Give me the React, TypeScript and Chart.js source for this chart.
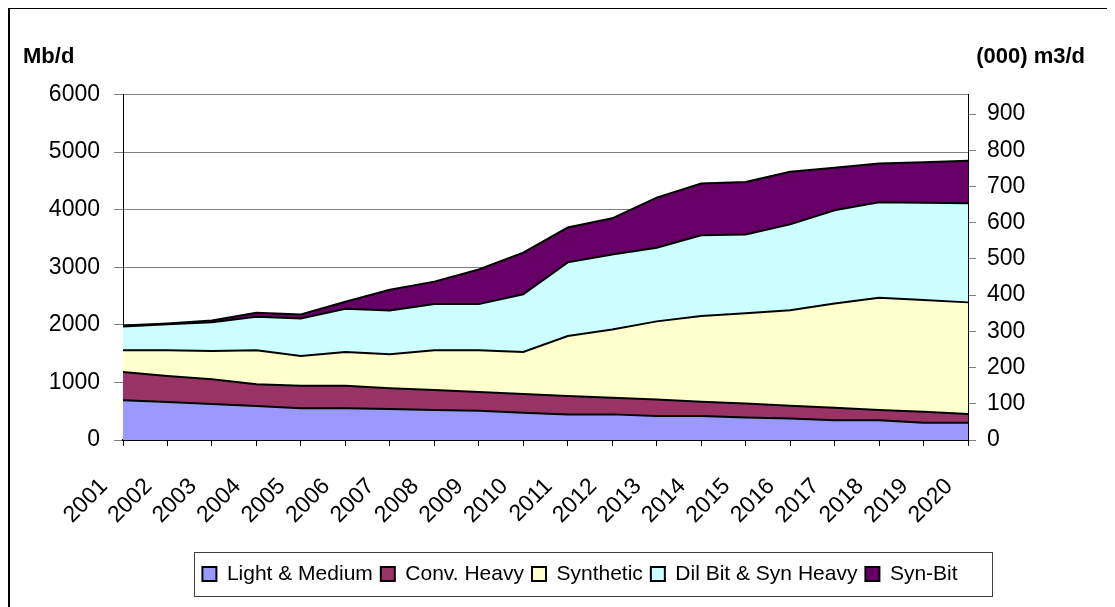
import React, { useEffect, useRef } from 'react';
import { Chart, registerables } from 'chart.js';

Chart.register(...registerables);

// ---- Data (Mb/d) ----
const years = ['2001', '2002', '2003', '2004', '2005', '2006', '2007', '2008', '2009', '2010',
  '2011', '2012', '2013', '2014', '2015', '2016', '2017', '2018', '2019', '2020'];

const lightMedium = [690, 660, 625, 590, 550, 550, 540, 520, 510, 475, 445, 445, 415, 415, 390, 375, 345, 345, 300, 300];
const convHeavy = [490, 450, 430, 380, 390, 390, 360, 350, 325, 325, 320, 290, 290, 250, 245, 220, 215, 175, 190, 150];
const synthetic = [380, 450, 490, 590, 520, 590, 590, 690, 725, 730, 1040, 1185, 1355, 1490, 1565, 1660, 1810, 1950, 1940, 1940];
const dilBitSynHeavy = [410, 450, 500, 580, 650, 750, 760, 800, 800, 1000, 1280, 1300, 1280, 1400, 1370, 1490, 1620, 1660, 1690, 1720];
const synBit = [20, 15, 30, 70, 70, 120, 360, 390, 600, 725, 605, 630, 870, 900, 910, 915, 740, 670, 705, 740];

const seriesNames = ['Light & Medium', 'Conv. Heavy', 'Synthetic', 'Dil Bit & Syn Heavy', 'Syn-Bit'];
const seriesColors = ['#9999FF', '#993366', '#FFFFCC', '#CCFFFF', '#660066'];

const leftAxisTitle = 'Mb/d';
const rightAxisTitle = '(000) m3/d';
const leftMax = 6000;
const leftStep = 1000;
const rightTicks = [0, 100, 200, 300, 400, 500, 600, 700, 800, 900];
const bblPerM3 = 6.29;

const FONT = '"Liberation Sans", Arial, Helvetica, sans-serif';
const W = 1103;
const H = 600;

export default function App() {
  const canvasRef = useRef<HTMLCanvasElement | null>(null);

  useEffect(() => {
    document.documentElement.style.overflow = 'hidden';
    document.body.style.overflow = 'hidden';
    const canvas = canvasRef.current;
    if (!canvas) return;

    const seriesData = [lightMedium, convHeavy, synthetic, dilBitSynHeavy, synBit];

    const decorPlugin = {
      id: 'decor',
      afterUpdate(chart: any) {
        const lg = chart.legend;
        if (!lg || !lg.legendHitBoxes || !lg.legendHitBoxes.length) return;
        const hb = lg.legendHitBoxes;
        const first = hb[0].left;
        const lastBox = hb[hb.length - 1];
        const last = lastBox.left + lastBox.width;
        const desiredCenter = 572;
        const dx = desiredCenter - (first + last) / 2;
        lg.left += dx;
        lg.right += dx;
        hb.forEach((h: any) => { h.left += dx; });
      },
      beforeDraw(chart: any) {
        const c = chart.ctx;
        c.save();
        c.fillStyle = '#fff';
        c.fillRect(0, 0, chart.width, chart.height);
        c.restore();
      },
      afterDraw(chart: any) {
        const c = chart.ctx;
        c.save();
        // outer frame (left, top, right)
        c.fillStyle = '#000';
        c.fillRect(0, 0, 2, chart.height);
        c.fillRect(0, 0, 1103, 2);
        c.fillRect(1100, 0, 2, chart.height);

        c.fillStyle = '#000';
        c.font = `bold 22px ${FONT}`;
        c.textBaseline = 'alphabetic';
        c.textAlign = 'left';
        c.fillText(leftAxisTitle, 15, 56);
        c.textAlign = 'right';
        c.fillText(rightAxisTitle, 1077, 56);

        const lg = chart.legend;
        if (lg && lg.legendHitBoxes && lg.legendHitBoxes.length) {
          const hb = lg.legendHitBoxes;
          const firstLeft = hb[0].left;
          const lastBox = hb[hb.length - 1];
          const lastRight = lastBox.left + lastBox.width;
          const yc = hb[0].top + hb[0].height / 2;
          const x1 = Math.round(firstLeft - 8) + 0.5;
          const x2 = Math.round(lastRight + 34) + 0.5;
          const y1 = Math.round(yc - 22) + 0.5;
          const y2 = Math.round(yc + 22) + 0.5;
          c.strokeStyle = '#404040';
          c.lineWidth = 1;
          c.strokeRect(x1, y1, x2 - x1, y2 - y1);
        }
        c.restore();
      },
    };

    const chart = new Chart(canvas, {
      type: 'line',
      data: {
        labels: years,
        datasets: seriesData.map((d, i) => ({
          label: seriesNames[i],
          data: d,
          backgroundColor: seriesColors[i],
          borderColor: '#000000',
          borderWidth: 2,
          fill: i === 0 ? 'origin' : '-1',
          pointRadius: 0,
          pointHoverRadius: 0,
          tension: 0,
        })),
      },
      options: {
        animation: false,
        responsive: false,
        maintainAspectRatio: false,
        events: [],
        layout: { padding: { top: 87.5, bottom: 12.5, left: 0, right: 0 } },
        plugins: {
          legend: {
            position: 'bottom',
            labels: {
              boxWidth: 14,
              boxHeight: 14,
              padding: 8,
              color: '#000',
              font: { size: 21, family: FONT },
            },
          },
          tooltip: { enabled: false },
          title: { display: false },
        },
        scales: {
          x: {
            type: 'category',
            offset: false,
            grid: { drawOnChartArea: false, drawTicks: true, tickLength: 6, color: '#000' },
            border: { color: '#000', width: 2 },
            ticks: {
              autoSkip: false,
              maxRotation: 45,
              minRotation: 45,
              color: '#000',
              padding: 27,
              labelOffset: -19,
              font: { size: 23, family: FONT },
            },
            afterFit: (s: any) => { s.height = 115.5; },
          },
          y: {
            stacked: true,
            min: 0,
            max: leftMax,
            ticks: {
              stepSize: leftStep,
              color: '#000',
              padding: 14,
              font: { size: 23, family: FONT },
              callback: (v: any) => String(v),
            },
            grid: { color: '#808080', lineWidth: 1, tickLength: 9, tickColor: '#808080' },
            border: { color: '#000', width: 1 },
            afterFit: (s: any) => { s.width = 115; },
          },
          y1: {
            position: 'right',
            min: 0,
            max: leftMax / bblPerM3,
            ticks: {
              color: '#000',
              padding: 11,
              font: { size: 23, family: FONT },
              callback: (v: any) => String(v),
            },
            grid: { drawOnChartArea: false, tickLength: 8, color: '#808080' },
            border: { color: '#000', width: 1 },
            afterBuildTicks: (s: any) => {
              s.ticks = rightTicks.map((v) => ({ value: v }));
            },
            afterFit: (s: any) => { s.width = W - 960; },
          },
        },
      },
      plugins: [decorPlugin],
    } as any);

    return () => { chart.destroy(); };
  }, []);

  return (
    <canvas
      ref={canvasRef}
      width={W}
      height={H}
      style={{ display: 'block', position: 'relative', top: -1 }}
    />
  );
}
